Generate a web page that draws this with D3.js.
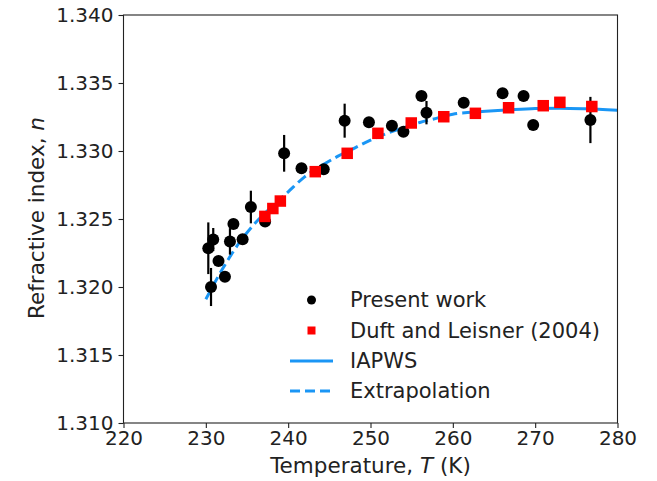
<!DOCTYPE html>
<html>
<head>
<meta charset="utf-8">
<script src="https://cdn.jsdelivr.net/npm/d3@7"></script>
<style>
  html, body { margin: 0; padding: 0; background: #fff; }
  svg { display: block; }
  text { font-family: "DejaVu Sans", sans-serif; fill: #222; }
</style>
</head>
<body>
<script>
// ---- data ----
const presentT   = [230.3, 230.63, 230.9, 231.54, 232.32, 232.93, 233.35, 234.47, 235.47, 237.2, 239.51, 241.62, 244.32, 246.86, 249.81, 252.6, 254.0, 256.19, 256.8, 261.32, 266.04, 268.59, 269.76, 276.71];
const presentN   = [1.32285, 1.3200, 1.32349, 1.32191, 1.32076, 1.32335, 1.32463, 1.32351, 1.32588, 1.32482, 1.32983, 1.32873, 1.32865, 1.33223, 1.33211, 1.33186, 1.33142, 1.33404, 1.33282, 1.33355, 1.33424, 1.33404, 1.33191, 1.33228];
const presentErr = [0.0019, 0.0014, 0.00085, 0, 0, 0.00097, 0, 0, 0.0012, 0, 0.00135, 0, 0, 0.00125, 0, 0, 0, 0, 0.00086, 0, 0, 0, 0, 0.0017];

const duftT = [237.17, 238.14, 239.05, 243.29, 247.17, 250.9, 254.95, 258.9, 262.74, 266.77, 270.98, 273.0, 276.88];
const duftN = [1.32519, 1.32577, 1.32632, 1.32848, 1.32983, 1.3313, 1.33206, 1.33252, 1.33277, 1.33318, 1.33333, 1.33358, 1.33327];

const iapwsT = [261.15, 264, 267, 270, 273, 276, 280];
const iapwsN = [1.3328, 1.33292, 1.33303, 1.33312, 1.33315, 1.33311, 1.3330];

const extrapT = [230, 232, 234, 236, 238, 240, 242, 244, 246, 248, 250, 252, 254, 256, 258, 260, 261.15];
const extrapN = [1.3191, 1.3213, 1.3232, 1.3247, 1.3259, 1.3270, 1.3281, 1.3289, 1.3296, 1.3302, 1.3308, 1.3313, 1.3317, 1.3321, 1.3324, 1.3327, 1.3328];

const xTicks = [220, 230, 240, 250, 260, 270, 280];
const yTicks = [1.310, 1.315, 1.320, 1.325, 1.330, 1.335, 1.340];

const legendLabels = ["Present work", "Duft and Leisner (2004)", "IAPWS", "Extrapolation"];

// ---- drawing ----
const W = 657, H = 481;
const svg = d3.select("body").append("svg").attr("width", W).attr("height", H);

const x = d3.scaleLinear().domain([220, 280]).range([123.5, 617.5]);
const y = d3.scaleLinear().domain([1.310, 1.340]).range([423, 15]);

const blue = "#1a96f5";

const line = d3.line().x(d => x(d[0])).y(d => y(d[1])).curve(d3.curveMonotoneX);

const plot = svg.append("g");
plot.append("path")
  .datum(extrapT.map((t, i) => [t, extrapN[i]]))
  .attr("d", line).attr("fill", "none").attr("stroke", blue)
  .attr("stroke-width", 3).attr("stroke-dasharray", "10,5");
plot.append("path")
  .datum(iapwsT.map((t, i) => [t, iapwsN[i]]))
  .attr("d", line).attr("fill", "none").attr("stroke", blue)
  .attr("stroke-width", 3);

const present = presentT.map((t, i) => ({t, n: presentN[i], e: presentErr[i]}));
plot.selectAll(".err").data(present.filter(d => d.e > 0)).enter().append("line")
  .attr("x1", d => x(d.t)).attr("x2", d => x(d.t))
  .attr("y1", d => y(d.n - d.e)).attr("y2", d => y(d.n + d.e))
  .attr("stroke", "#000").attr("stroke-width", 2.2);
plot.selectAll(".pt").data(present).enter().append("circle")
  .attr("cx", d => x(d.t)).attr("cy", d => y(d.n)).attr("r", 6).attr("fill", "#000");

const duft = duftT.map((t, i) => ({t, n: duftN[i]}));
const sq = 11.5;
plot.selectAll(".sq").data(duft).enter().append("rect")
  .attr("x", d => x(d.t) - sq / 2).attr("y", d => y(d.n) - sq / 2)
  .attr("width", sq).attr("height", sq).attr("fill", "#ff0000");

// axes
const xAxis = svg.append("g").attr("transform", `translate(0,${y.range()[0]})`)
  .call(d3.axisBottom(x).tickValues(xTicks).tickFormat(d3.format("d")).tickSize(5).tickPadding(3).tickSizeOuter(0));
const yAxis = svg.append("g").attr("transform", `translate(${x.range()[0]},0)`)
  .call(d3.axisLeft(y).tickValues(yTicks).tickFormat(d3.format(".3f")).tickSize(5).tickPadding(5).tickSizeOuter(0));
[xAxis, yAxis].forEach(g => {
  g.select(".domain").remove();
  g.selectAll(".tick line").attr("stroke", "#222").attr("stroke-width", 1.1);
  g.selectAll(".tick text").attr("font-size", 20).attr("font-family", "DejaVu Sans").attr("fill", "#222");
});

// frame
svg.append("rect")
  .attr("x", x.range()[0]).attr("y", y.range()[1])
  .attr("width", x.range()[1] - x.range()[0]).attr("height", y.range()[0] - y.range()[1])
  .attr("fill", "none").attr("stroke", "#222").attr("stroke-width", 1.1);

// axis labels
const xl = svg.append("text").attr("x", (x.range()[0] + x.range()[1]) / 2).attr("y", 473)
  .attr("text-anchor", "middle").attr("font-size", 21.5);
xl.append("tspan").text("Temperature, ");
xl.append("tspan").attr("font-style", "italic").text("T");
xl.append("tspan").text(" (K)");

const yl = svg.append("text").attr("transform", `translate(44,218) rotate(-90)`)
  .attr("text-anchor", "middle").attr("font-size", 21.5);
yl.append("tspan").text("Refractive index, ");
yl.append("tspan").attr("font-style", "italic").text("n");

// legend
const lg = svg.append("g");
const rowY = [300, 330.5, 361, 391];
const hx0 = 290, hx1 = 333, hc = 311.5;
lg.append("circle").attr("cx", hc).attr("cy", rowY[0]).attr("r", 4.5).attr("fill", "#000");
lg.append("rect").attr("x", hc - 4).attr("y", rowY[1] - 4).attr("width", 8).attr("height", 8).attr("fill", "#ff0000");
lg.append("line").attr("x1", hx0).attr("x2", hx1).attr("y1", rowY[2]).attr("y2", rowY[2])
  .attr("stroke", blue).attr("stroke-width", 3);
lg.append("line").attr("x1", hx0).attr("x2", hx1).attr("y1", rowY[3]).attr("y2", rowY[3])
  .attr("stroke", blue).attr("stroke-width", 3).attr("stroke-dasharray", "10,5");
legendLabels.forEach((s, i) => {
  lg.append("text").attr("x", 350).attr("y", rowY[i]).attr("dy", "0.35em")
    .attr("font-size", 21).text(s);
});
</script>
</body>
</html>
